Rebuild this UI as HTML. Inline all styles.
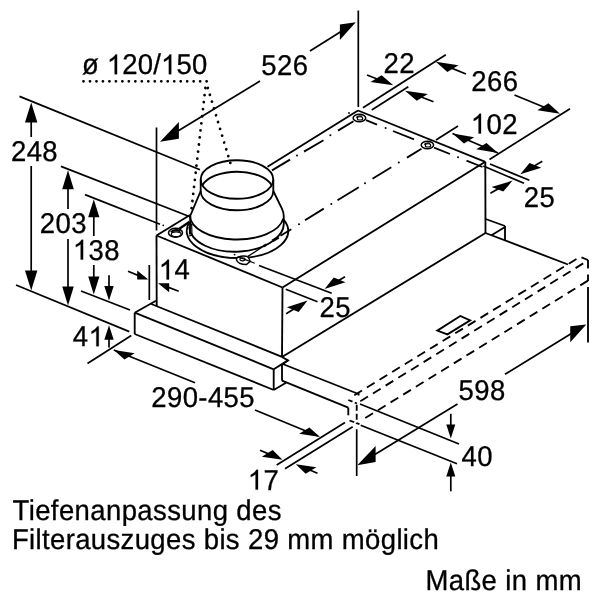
<!DOCTYPE html>
<html><head><meta charset="utf-8"><title>Maßzeichnung</title>
<style>
html,body{margin:0;padding:0;background:#fff;}
body{width:600px;height:600px;overflow:hidden;font-family:"Liberation Sans",sans-serif;}
svg{display:block;position:absolute;left:0;top:0;will-change:transform;}
svg line,svg polyline,svg polygon,svg path,svg ellipse{fill:none;stroke:#000;stroke-linejoin:miter;}
svg .ah{fill:#000;stroke:none;}
svg .wf{fill:#fff;}
svg .g1{fill:#000;stroke:#000;stroke-width:22;}
svg .hid{fill:none;stroke:none;}
svg text{font-family:"Liberation Sans",sans-serif;fill:#000;stroke:#000;stroke-width:0.3px;letter-spacing:0.4px;text-rendering:geometricPrecision;}
</style></head><body>
<svg width="600" height="600" viewBox="0 0 600 600">
<line x1="156.5" y1="235.5" x2="190" y2="215" stroke-width="1.85" stroke-linecap="butt"/>
<line x1="267.5" y1="166.8" x2="358" y2="110.5" stroke-width="1.85" stroke-linecap="butt"/>
<line x1="358" y1="110.5" x2="485.3" y2="161.8" stroke-width="1.85" stroke-linecap="butt"/>
<line x1="485.3" y1="161.8" x2="282.5" y2="287.5" stroke-width="1.85" stroke-linecap="butt"/>
<line x1="282.5" y1="287.5" x2="156.5" y2="235.5" stroke-width="1.85" stroke-linecap="butt"/>
<line x1="156.5" y1="235.5" x2="156.7" y2="306" stroke-width="1.85" stroke-linecap="butt"/>
<line x1="282.5" y1="287.5" x2="282" y2="357" stroke-width="1.85" stroke-linecap="butt"/>
<line x1="485.3" y1="161.8" x2="485.5" y2="233" stroke-width="1.85" stroke-linecap="butt"/>
<line x1="282" y1="357" x2="485.5" y2="233" stroke-width="1.85" stroke-linecap="butt"/>
<line x1="272" y1="170.4" x2="290" y2="159.6" stroke-width="1.85" stroke-linecap="butt"/>
<circle cx="297" cy="155.5" r="1.0" class="ah"/>
<line x1="304" y1="151.6" x2="323.5" y2="140.2" stroke-width="1.85" stroke-linecap="butt"/>
<circle cx="330.4" cy="135.2" r="1.0" class="ah"/>
<line x1="338" y1="130.6" x2="353.5" y2="121.2" stroke-width="1.85" stroke-linecap="butt"/>
<line x1="421.5" y1="148.8" x2="407" y2="157.6" stroke-width="1.85" stroke-linecap="butt"/>
<circle cx="398.8" cy="162.6" r="1.0" class="ah"/>
<line x1="391.3" y1="167.2" x2="372.5" y2="178.8" stroke-width="1.85" stroke-linecap="butt"/>
<circle cx="365" cy="183.3" r="1.0" class="ah"/>
<line x1="358.8" y1="187.2" x2="337.5" y2="200.2" stroke-width="1.85" stroke-linecap="butt"/>
<circle cx="331.3" cy="204" r="1.0" class="ah"/>
<line x1="323.8" y1="208.6" x2="305" y2="220.2" stroke-width="1.85" stroke-linecap="butt"/>
<circle cx="299" cy="224.2" r="1.0" class="ah"/>
<line x1="366" y1="120.2" x2="377" y2="124.6" stroke-width="1.85" stroke-linecap="butt"/>
<circle cx="385.6" cy="128" r="1.0" class="ah"/>
<line x1="393" y1="131" x2="414" y2="139.4" stroke-width="1.85" stroke-linecap="butt"/>
<line x1="434" y1="147.6" x2="450" y2="154" stroke-width="1.85" stroke-linecap="butt"/>
<circle cx="458" cy="157.2" r="1.0" class="ah"/>
<line x1="466.5" y1="160.6" x2="482.5" y2="167" stroke-width="1.85" stroke-linecap="butt"/>
<line x1="259" y1="265.5" x2="331.7" y2="293.2" stroke-width="1.7" stroke-linecap="butt"/>
<circle cx="163.3" cy="225.3" r="0.9" class="ah"/>
<circle cx="164.8" cy="238.6" r="0.9" class="ah"/>
<circle cx="349" cy="113" r="0.9" class="ah"/>
<ellipse cx="359.4" cy="118" rx="6.3" ry="3.7" stroke-width="1.5" class="wf"/>
<ellipse cx="360" cy="118.4" rx="2.77" ry="1.63" stroke-width="1.1"/>
<path d="M356.25,117.44 Q358.77,115.04 362.23,116.33" stroke-width="1.3" />
<ellipse cx="427.4" cy="145" rx="6.2" ry="3.7" stroke-width="1.5" class="wf"/>
<ellipse cx="428" cy="145.4" rx="2.73" ry="1.63" stroke-width="1.1"/>
<path d="M424.3,144.44 Q426.78,142.04 430.19,143.34" stroke-width="1.3" />
<ellipse cx="175.5" cy="232.8" rx="7" ry="4.5" stroke-width="1.5" class="wf"/>
<ellipse cx="176.2" cy="234.2" rx="4.9" ry="2.4" stroke-width="1.2"/>
<path d="M170.9,232.2 Q175,228.4 180.5,231.4" stroke-width="2.2" />
<path d="M191.6,223.5 L192,235.3 L188.8,236" stroke-width="1.2" />
<path d="M283.75,219.83 A50.8,27 0 1 1 189.61,222" stroke-width="1.85" />
<g transform="rotate(-2.2 236.5 224.5)">
<path d="M283.56,221.78 A47.3,27.2 0 1 1 189.21,225.04" stroke-width="1.85" />
</g>
<line x1="291.3" y1="229.3" x2="280.5" y2="235.7" stroke-width="1.85" stroke-linecap="butt"/>
<line x1="278.6" y1="237.2" x2="272.3" y2="241" stroke-width="2.8" stroke-linecap="butt"/>
<line x1="266.5" y1="244.6" x2="263.5" y2="246.3" stroke-width="2.4" stroke-linecap="butt"/>
<line x1="262" y1="247.3" x2="247.5" y2="256.6" stroke-width="1.3" stroke-linecap="butt"/>
<path d="M246,256.2 C240,255.5 236,257.5 236.5,260 C237.5,263 242,264.5 246.5,264.5 L250.2,261.2 L248.5,257.5 Z" stroke-width="1.4" class="wf"/>
<ellipse cx="242.5" cy="259.3" rx="2.6" ry="1.6" stroke-width="1.1"/>
<line x1="237.5" y1="256.6" x2="254.8" y2="263.2" stroke-width="1.2" stroke-linecap="butt"/>
<circle cx="234.6" cy="254.6" r="0.9" class="ah"/>
<path d="M283.21,218.61 A46.8,24 0 0 1 190,215.5" stroke-width="1.85" />
<path d="M273.3,191 L281.9,208.6 Q283.75,212.4 283.75,216 L283.75,221.2" stroke-width="1.85" />
<path d="M200.7,191 L190.3,215.6 L189.8,234.5" stroke-width="1.85" />
<line x1="179.3" y1="228.8" x2="189.6" y2="221.8" stroke-width="2.4" stroke-linecap="butt"/>
<line x1="200.7" y1="179.5" x2="200.7" y2="191" stroke-width="1.85" stroke-linecap="butt"/>
<line x1="273.3" y1="179.5" x2="273.3" y2="191" stroke-width="1.85" stroke-linecap="butt"/>
<path d="M273.3,191 A36.3,19.3 0 0 1 200.7,191" stroke-width="1.85" />
<path d="M202.32,185.3 A36.3,19.3 0 0 1 271.68,185.3" stroke-width="1.85" />
<ellipse cx="237" cy="179.5" rx="36.3" ry="19.3" stroke-width="1.85"/>
<line x1="83.5" y1="81.3" x2="207.5" y2="81.3" stroke-width="2.8" stroke-dasharray="0.01 6.47" stroke-linecap="round"/>
<line x1="205.4" y1="88" x2="190.8" y2="215" stroke-width="2.8" stroke-dasharray="0.01 7.1" stroke-linecap="round"/>
<line x1="207.8" y1="88" x2="230.5" y2="163.5" stroke-width="2.8" stroke-dasharray="0.01 7.1" stroke-linecap="round"/>
<line x1="134.7" y1="312.7" x2="156" y2="300.7" stroke-width="1.85" stroke-linecap="butt"/>
<line x1="151.3" y1="304" x2="282" y2="356.8" stroke-width="1.85" stroke-linecap="butt"/>
<line x1="134.7" y1="312.7" x2="273.7" y2="369.3" stroke-width="1.85" stroke-linecap="butt"/>
<line x1="134.7" y1="334" x2="273.7" y2="390" stroke-width="1.85" stroke-linecap="butt"/>
<line x1="134.7" y1="312.7" x2="134.7" y2="334" stroke-width="1.85" stroke-linecap="butt"/>
<line x1="273.7" y1="369.3" x2="273.7" y2="390" stroke-width="1.85" stroke-linecap="butt"/>
<line x1="273.7" y1="369.3" x2="288" y2="360.4" stroke-width="1.85" stroke-linecap="butt"/>
<line x1="273.7" y1="390" x2="286" y2="382.7" stroke-width="1.85" stroke-linecap="butt"/>
<polyline points="282,357 288,360.4 282.7,364" stroke-width="1.85"/>
<line x1="282.7" y1="364" x2="358.5" y2="394" stroke-width="1.85" stroke-linecap="butt"/>
<line x1="282" y1="364" x2="282" y2="380.7" stroke-width="1.85" stroke-linecap="butt"/>
<line x1="282" y1="380.7" x2="348.3" y2="407.6" stroke-width="1.85" stroke-linecap="butt"/>
<line x1="348.3" y1="407.6" x2="348.3" y2="415.3" stroke-width="1.85" stroke-linecap="butt"/>
<line x1="358.6" y1="392.5" x2="358.6" y2="395.5" stroke-width="1.85" stroke-linecap="butt"/>
<line x1="348.3" y1="400" x2="357" y2="403.5" stroke-width="1.85" stroke-dasharray="4.5 2.5" stroke-linecap="butt"/>
<line x1="356.7" y1="404.7" x2="356.7" y2="424" stroke-width="1.85" stroke-dasharray="6 3" stroke-linecap="butt"/>
<line x1="349.5" y1="420.5" x2="359.5" y2="424.2" stroke-width="1.85" stroke-dasharray="5 2.5" stroke-linecap="butt"/>
<line x1="354.3" y1="395.2" x2="576.5" y2="259" stroke-width="1.85" stroke-dasharray="9 5.8" stroke-linecap="butt"/>
<line x1="360.3" y1="401.3" x2="583.2" y2="263.4" stroke-width="1.85" stroke-dasharray="9 5.89" stroke-linecap="butt"/>
<line x1="365.3" y1="418" x2="588" y2="280.6" stroke-width="1.85" stroke-dasharray="9 5.86" stroke-linecap="butt"/>
<line x1="581.5" y1="257.4" x2="588" y2="260" stroke-width="1.85" stroke-linecap="butt"/>
<line x1="588" y1="260" x2="588" y2="268.5" stroke-width="1.85" stroke-linecap="butt"/>
<line x1="588" y1="274.5" x2="588" y2="281" stroke-width="1.85" stroke-linecap="butt"/>
<line x1="588" y1="287" x2="588" y2="342.5" stroke-width="1.85" stroke-linecap="butt"/>
<line x1="485.5" y1="233" x2="568" y2="264.5" stroke-width="1.85" stroke-linecap="butt"/>
<line x1="485.6" y1="219" x2="505" y2="226" stroke-width="1.85" stroke-linecap="butt"/>
<line x1="505" y1="226" x2="505" y2="240" stroke-width="1.85" stroke-linecap="butt"/>
<line x1="505" y1="227" x2="491.5" y2="235.3" stroke-width="1.85" stroke-linecap="butt"/>
<polygon points="437.3,330.6 460.3,316 470.2,320.4 447.4,334.4" stroke-width="1.85"/>
<line x1="156.5" y1="127.5" x2="156.5" y2="230.5" stroke-width="1.7" stroke-linecap="butt"/>
<line x1="358.3" y1="10.5" x2="358.3" y2="107" stroke-width="1.7" stroke-linecap="butt"/>
<line x1="260" y1="81" x2="171.33" y2="134.91" stroke-width="1.7" stroke-linecap="butt"/>
<polygon class="ah" points="160,141.8 178.88,138.72 178.88,121.92"/>
<line x1="310" y1="51" x2="346.24" y2="28.29" stroke-width="1.7" stroke-linecap="butt"/>
<polygon class="ah" points="355.8,22.3 339.87,40.08 339.87,24.48"/>
<line x1="19.5" y1="96.4" x2="200" y2="169.7" stroke-width="1.7" stroke-linecap="butt"/>
<line x1="16" y1="285" x2="129.3" y2="331.6" stroke-width="1.7" stroke-linecap="butt"/>
<line x1="31.2" y1="137" x2="31.2" y2="114.5" stroke-width="1.7" stroke-linecap="butt"/>
<polygon class="ah" points="31.2,102.5 37.4,122.5 25,122.5"/>
<line x1="31.2" y1="166" x2="31.2" y2="278.5" stroke-width="1.7" stroke-linecap="butt"/>
<polygon class="ah" points="31.2,290.5 37.4,270.5 25,270.5"/>
<line x1="61" y1="166.4" x2="190" y2="216.7" stroke-width="1.7" stroke-linecap="butt"/>
<line x1="68" y1="209" x2="68" y2="181.6" stroke-width="1.7" stroke-linecap="butt"/>
<polygon class="ah" points="68,170.2 73.8,189.2 62.2,189.2"/>
<line x1="68" y1="239" x2="68" y2="294.1" stroke-width="1.7" stroke-linecap="butt"/>
<polygon class="ah" points="68,305.5 73.8,286.5 62.2,286.5"/>
<line x1="85" y1="194.6" x2="160" y2="224.2" stroke-width="1.7" stroke-linecap="butt"/>
<line x1="81" y1="291" x2="130" y2="310" stroke-width="1.7" stroke-linecap="butt"/>
<line x1="93.8" y1="236" x2="93.8" y2="210" stroke-width="1.7" stroke-linecap="butt"/>
<polygon class="ah" points="93.8,199.2 99.4,217.2 88.2,217.2"/>
<line x1="93.8" y1="265" x2="93.8" y2="283.7" stroke-width="1.7" stroke-linecap="butt"/>
<polygon class="ah" points="93.8,294.5 99.4,276.5 88.2,276.5"/>
<line x1="109" y1="275.3" x2="109" y2="291.76" stroke-width="1.7" stroke-linecap="butt"/>
<polygon class="ah" points="109,300.4 113.7,286 104.3,286"/>
<line x1="109" y1="347.5" x2="109" y2="333.94" stroke-width="1.7" stroke-linecap="butt"/>
<polygon class="ah" points="109,325.3 113.7,339.7 104.3,339.7"/>
<line x1="149.3" y1="265" x2="149.3" y2="300" stroke-width="1.7" stroke-linecap="butt"/>
<line x1="128" y1="271.3" x2="141.64" y2="276.88" stroke-width="1.7" stroke-linecap="butt"/>
<polygon class="ah" points="148.3,279.6 137.19,279.56 137.19,270.56"/>
<line x1="178.7" y1="291.3" x2="164.72" y2="285.9" stroke-width="1.7" stroke-linecap="butt"/>
<polygon class="ah" points="158,283.3 169.19,292.13 169.19,283.13"/>
<line x1="363" y1="107.7" x2="445.8" y2="54.7" stroke-width="1.7" stroke-linecap="butt"/>
<line x1="371.7" y1="110" x2="408.3" y2="86.7" stroke-width="1.7" stroke-linecap="butt"/>
<line x1="367" y1="75" x2="382.96" y2="81.25" stroke-width="1.7" stroke-linecap="butt"/>
<polygon class="ah" points="393.3,85.3 381.62,75.16 370.53,81.95"/>
<line x1="433.5" y1="101.7" x2="415.37" y2="94.77" stroke-width="1.7" stroke-linecap="butt"/>
<polygon class="ah" points="405,90.8 427.82,94.02 416.74,100.8"/>
<line x1="489.5" y1="159.5" x2="570" y2="108.8" stroke-width="1.7" stroke-linecap="butt"/>
<line x1="466" y1="74" x2="446.08" y2="65.89" stroke-width="1.7" stroke-linecap="butt"/>
<polygon class="ah" points="435.8,61.7 458.48,65.29 447.39,72.07"/>
<line x1="514.5" y1="95" x2="549.74" y2="109.56" stroke-width="1.7" stroke-linecap="butt"/>
<polygon class="ah" points="560,113.8 548.45,103.34 537.36,110.13"/>
<line x1="436" y1="140" x2="458" y2="126" stroke-width="1.7" stroke-linecap="butt"/>
<line x1="452.5" y1="133.5" x2="498" y2="153" stroke-width="1.7" stroke-linecap="butt"/>
<polygon class="ah" points="452.5,133.5 474.21,137.34 463.98,143.6"/>
<polygon class="ah" points="498,153 486.52,142.9 476.29,149.16"/>
<line x1="483.3" y1="166" x2="524" y2="183.3" stroke-width="1.7" stroke-linecap="butt"/>
<line x1="490" y1="164" x2="529.3" y2="180.3" stroke-width="1.7" stroke-linecap="butt"/>
<line x1="542.3" y1="161.3" x2="529.36" y2="168.89" stroke-width="1.7" stroke-linecap="butt"/>
<polygon class="ah" points="520.3,174.2 541.26,167.66 529.54,163.03"/>
<line x1="490.4" y1="193.3" x2="503.49" y2="185.81" stroke-width="1.7" stroke-linecap="butt"/>
<polygon class="ah" points="512.6,180.6 503.27,191.6 491.55,186.98"/>
<line x1="285.8" y1="289.2" x2="317.5" y2="301.7" stroke-width="1.7" stroke-linecap="butt"/>
<line x1="345" y1="276.7" x2="333.61" y2="283.51" stroke-width="1.7" stroke-linecap="butt"/>
<polygon class="ah" points="324.6,288.9 345.48,282.23 333.76,277.6"/>
<line x1="286.2" y1="313.7" x2="298.68" y2="305.94" stroke-width="1.7" stroke-linecap="butt"/>
<polygon class="ah" points="307.6,300.4 298.6,311.95 286.88,307.32"/>
<line x1="131.3" y1="335.5" x2="87.5" y2="363.5" stroke-width="1.7" stroke-linecap="butt"/>
<line x1="113.8" y1="350" x2="195" y2="382.8" stroke-width="1.7" stroke-linecap="butt"/>
<polygon class="ah" points="113.8,350 134.67,353.25 124.44,359.51"/>
<line x1="255" y1="410" x2="318" y2="436" stroke-width="1.7" stroke-linecap="butt"/>
<polygon class="ah" points="320,436.9 309.36,427.39 299.13,433.65"/>
<line x1="345" y1="422.5" x2="276.7" y2="465" stroke-width="1.7" stroke-linecap="butt"/>
<line x1="352.7" y1="426.8" x2="285" y2="468.7" stroke-width="1.7" stroke-linecap="butt"/>
<line x1="317.5" y1="473.3" x2="304.93" y2="468.03" stroke-width="1.7" stroke-linecap="butt"/>
<polygon class="ah" points="295.8,464.2 316.39,467.29 305.64,473.87"/>
<line x1="260" y1="450.3" x2="273.37" y2="455.88" stroke-width="1.7" stroke-linecap="butt"/>
<polygon class="ah" points="282.5,459.7 272.65,450.05 261.9,456.63"/>
<line x1="356.7" y1="429.3" x2="356.7" y2="476" stroke-width="1.7" stroke-linecap="butt"/>
<line x1="505" y1="374.3" x2="576.69" y2="330.3" stroke-width="1.7" stroke-linecap="butt"/>
<polygon class="ah" points="586.3,324.4 570.28,342.23 570.28,326.23"/>
<line x1="457.5" y1="404" x2="368.3" y2="458.57" stroke-width="1.7" stroke-linecap="butt"/>
<polygon class="ah" points="357.3,465.3 375.64,462.08 375.64,446.08"/>
<line x1="360" y1="404" x2="459" y2="444" stroke-width="1.7" stroke-linecap="butt"/>
<line x1="360.7" y1="425.3" x2="457" y2="463.8" stroke-width="1.7" stroke-linecap="butt"/>
<line x1="450.8" y1="413.8" x2="450.8" y2="430.2" stroke-width="1.7" stroke-linecap="butt"/>
<polygon class="ah" points="450.8,438.6 455.3,424.6 446.3,424.6"/>
<line x1="450.8" y1="491.3" x2="450.8" y2="471" stroke-width="1.7" stroke-linecap="butt"/>
<polygon class="ah" points="450.8,462.6 455.3,476.6 446.3,476.6"/>
<path class="g1" transform="translate(106.83 74.25) scale(0.01343 -0.01343)" d="M763 0L583 0L583 1147Q518 1085 412.5 1023Q307 961 223 930L223 1104Q374 1175 487 1276Q600 1377 647 1472L763 1472Z"/>
<path class="g1" transform="translate(161.01 74.25) scale(0.01343 -0.01343)" d="M763 0L583 0L583 1147Q518 1085 412.5 1023Q307 961 223 930L223 1104Q374 1175 487 1276Q600 1377 647 1472L763 1472Z"/>
<text transform="matrix(1 0 0 1.04 0 -2.97)" x="82.06" y="74.25" font-size="27.5" style="letter-spacing:0.17px">ø <tspan class="hid">1</tspan>20/<tspan class="hid">1</tspan>50</text>
<text transform="matrix(1 0 0 1.04 0 -3)" x="261.35" y="75.1" font-size="27.5">526</text>
<text transform="matrix(1 0 0 1.04 0 -2.91)" x="383.47" y="72.7" font-size="27.5">22</text>
<text transform="matrix(1 0 0 1.04 0 -3.64)" x="471.27" y="90.9" font-size="27.5">266</text>
<path class="g1" transform="translate(470.76 133.5) scale(0.01343 -0.01343)" d="M763 0L583 0L583 1147Q518 1085 412.5 1023Q307 961 223 930L223 1104Q374 1175 487 1276Q600 1377 647 1472L763 1472Z"/>
<text transform="matrix(1 0 0 1.04 0 -5.34)" x="470.76" y="133.5" font-size="27.5"><tspan class="hid">1</tspan>02</text>
<text transform="matrix(1 0 0 1.04 0 -8.27)" x="523.77" y="206.8" font-size="27.5">25</text>
<text transform="matrix(1 0 0 1.04 0 -6.44)" x="10.97" y="160.9" font-size="27.5">248</text>
<text transform="matrix(1 0 0 1.04 0 -9.33)" x="39.77" y="233.2" font-size="27.5">203</text>
<path class="g1" transform="translate(72.86 259.6) scale(0.01343 -0.01343)" d="M763 0L583 0L583 1147Q518 1085 412.5 1023Q307 961 223 930L223 1104Q374 1175 487 1276Q600 1377 647 1472L763 1472Z"/>
<text transform="matrix(1 0 0 1.04 0 -10.38)" x="72.86" y="259.6" font-size="27.5"><tspan class="hid">1</tspan>38</text>
<path class="g1" transform="translate(158.76 279.4) scale(0.01343 -0.01343)" d="M763 0L583 0L583 1147Q518 1085 412.5 1023Q307 961 223 930L223 1104Q374 1175 487 1276Q600 1377 647 1472L763 1472Z"/>
<text transform="matrix(1 0 0 1.04 0 -11.18)" x="158.76" y="279.4" font-size="27.5"><tspan class="hid">1</tspan>4</text>
<path class="g1" transform="translate(88.51 346.25) scale(0.01343 -0.01343)" d="M763 0L583 0L583 1147Q518 1085 412.5 1023Q307 961 223 930L223 1104Q374 1175 487 1276Q600 1377 647 1472L763 1472Z"/>
<text transform="matrix(1 0 0 1.04 0 -13.85)" x="72.82" y="346.25" font-size="27.5">4<tspan class="hid">1</tspan></text>
<text transform="matrix(1 0 0 1.04 0 -12.69)" x="319.57" y="317.2" font-size="27.5">25</text>
<text transform="matrix(1 0 0 1.04 0 -16.28)" x="151.27" y="407.1" font-size="27.5">290-455</text>
<text transform="matrix(1 0 0 1.04 0 -15.98)" x="458.55" y="399.6" font-size="27.5">598</text>
<text transform="matrix(1 0 0 1.04 0 -18.63)" x="461.52" y="465.8" font-size="27.5">40</text>
<path class="g1" transform="translate(247.76 489.6) scale(0.01343 -0.01343)" d="M763 0L583 0L583 1147Q518 1085 412.5 1023Q307 961 223 930L223 1104Q374 1175 487 1276Q600 1377 647 1472L763 1472Z"/>
<text transform="matrix(1 0 0 1.04 0 -19.58)" x="247.76" y="489.6" font-size="27.5"><tspan class="hid">1</tspan>7</text>
<text transform="matrix(1 0 0 1.04 0 -20.81)" x="12.53" y="520.2" font-size="27.5" style="letter-spacing:0.39px">Tiefenanpassung des</text>
<text transform="matrix(1 0 0 1.04 0 -21.95)" x="11.89" y="548.8" font-size="27.5" style="letter-spacing:0.36px">Filterauszuges bis 29 mm möglich</text>
<text transform="matrix(1 0 0 1.04 0 -23.59)" x="425.39" y="589.8" font-size="27.5">Maße in mm</text>
</svg>
</body></html>
